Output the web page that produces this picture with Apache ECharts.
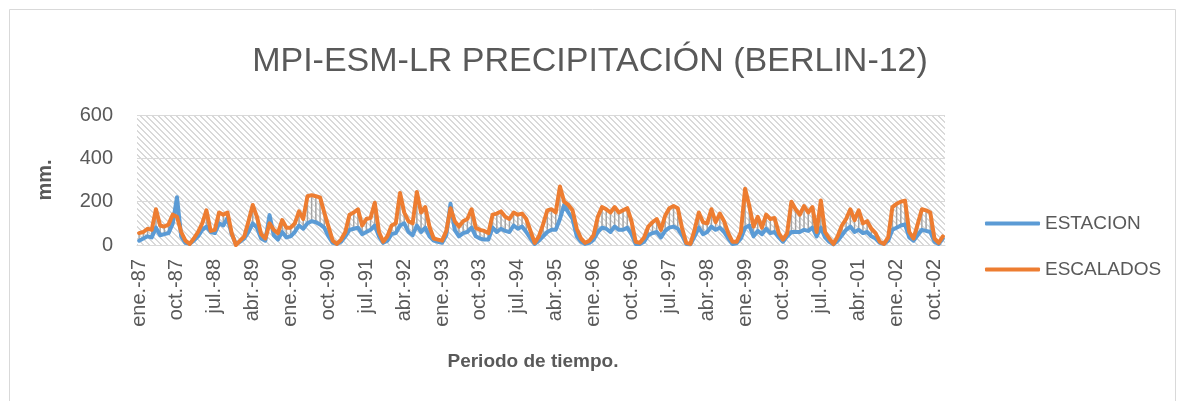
<!DOCTYPE html>
<html><head><meta charset="utf-8">
<script src="https://cdn.jsdelivr.net/npm/echarts@6/dist/echarts.min.js"></script>
<style>html,body{margin:0;padding:0;background:#fff}#c{width:1180px;height:401px}</style>
</head><body><div id="c"></div>
<script>
const monthNames = ['ene.','feb.','mar.','abr.','may.','jun.','jul.','ago.','sep.','oct.','nov.','dic.'];
const years = ['87','88','89','90','91','92','93','94','95','96','97','98','99','00','01','02'];
const yTicks = [0, 200, 400, 600];
const estacion = [
 20,30,40,35,80,45,50,55,100,220,40,10,
 5,20,40,70,85,60,55,100,90,125,50,5,
 15,30,60,100,80,30,20,138,45,25,60,35,
 40,60,90,75,100,110,105,95,80,40,10,5,
 15,40,70,75,80,50,60,70,90,40,10,20,
 50,55,90,100,60,45,90,60,80,40,20,15,
 10,45,190,70,40,55,60,80,40,30,25,25,
 80,60,75,65,60,90,75,85,60,30,5,20,
 40,60,70,70,120,185,150,120,40,15,5,10,
 25,60,80,75,60,85,70,70,80,50,5,5,
 15,45,55,60,35,65,80,85,75,45,5,3,
 40,80,50,60,85,70,80,60,30,5,8,30,
 80,90,40,65,50,75,55,60,35,15,40,60,
 60,60,70,65,80,40,80,35,15,3,20,45,
 70,85,60,70,55,60,40,30,10,5,20,70,
 80,90,95,35,20,45,70,65,60,15,5,30
];
const escalados = [
 55,60,75,70,165,90,85,95,140,130,60,20,
 5,30,60,100,160,65,70,150,140,150,55,0,
 20,40,110,185,130,50,30,100,70,55,115,80,
 80,100,155,120,225,230,225,220,150,85,20,5,
 25,60,140,150,165,90,120,125,195,60,15,40,
 90,100,240,150,110,100,245,150,175,85,30,25,
 20,65,170,110,85,110,120,165,80,70,65,55,
 140,145,155,130,120,150,140,145,120,65,10,40,
 95,160,165,150,270,200,185,160,75,30,10,20,
 45,130,175,165,150,175,150,160,170,110,15,10,
 35,85,105,120,70,135,170,180,170,80,10,5,
 70,150,105,100,165,105,145,110,55,15,15,60,
 260,180,85,130,80,140,120,125,55,25,55,200,
 165,140,180,150,175,60,205,60,30,5,40,90,
 120,165,115,160,100,110,75,55,15,5,35,175,
 190,200,205,60,30,95,165,160,150,30,10,40
];
const categories = [];
years.forEach(y => monthNames.forEach(m => categories.push(m + '-' + y)));

function hatch() {
  const n = 6, cv = document.createElement('canvas');
  cv.width = n; cv.height = n;
  const ctx = cv.getContext('2d');
  ctx.fillStyle = '#ffffff'; ctx.fillRect(0, 0, n, n);
  ctx.fillStyle = '#d9d9d9';
  for (let k = 0; k < n; k++) { ctx.fillRect(k, k, 1, 1); ctx.fillRect((k + 1) % n, k, 1, 1); }
  return cv;
}

const chart = echarts.init(document.getElementById('c'));
const fontFam = '"Liberation Sans", Arial, sans-serif';
chart.setOption({
  animation: false,
  backgroundColor: '#ffffff',
  title: {
    text: 'MPI-ESM-LR PRECIPITACIÓN (BERLIN-12)',
    left: 'center', top: 40,
    textStyle: { fontFamily: fontFam, fontSize: 34, fontWeight: 'normal', color: '#595959' }
  },
  legend: {
    orient: 'vertical', left: 980, top: 209,
    itemWidth: 55, itemHeight: 4, itemGap: 27, icon: 'roundRect',
    textStyle: { fontFamily: fontFam, fontSize: 19, color: '#595959' },
    data: ['ESTACION', 'ESCALADOS']
  },
  grid: {
    left: 137, right: 235, top: 115, bottom: 156,
    show: true, borderWidth: 0,
    backgroundColor: { image: hatch(), repeat: 'repeat' }
  },
  xAxis: {
    type: 'category', data: categories, boundaryGap: true,
    name: 'Periodo de tiempo.', nameLocation: 'middle', nameGap: 107,
    nameTextStyle: { fontFamily: fontFam, fontSize: 19, fontWeight: 'bold', color: '#595959', padding: [0, 16, 0, 0] },
    axisLine: { lineStyle: { color: '#d9d9d9', width: 1 } },
    axisTick: { show: false },
    axisLabel: { interval: 8, rotate: 90, margin: 14, fontFamily: fontFam, fontSize: 20, color: '#595959' }
  },
  yAxis: {
    type: 'value', min: yTicks[0], max: yTicks[yTicks.length - 1], interval: 200,
    name: 'mm.', nameLocation: 'middle', nameGap: 82,
    nameTextStyle: { fontFamily: fontFam, fontSize: 20, fontWeight: 'bold', color: '#595959' },
    axisLine: { show: false }, axisTick: { show: false },
    axisLabel: { margin: 24, fontFamily: fontFam, fontSize: 20, color: '#595959' },
    splitLine: { lineStyle: { color: '#d9d9d9', width: 1 } }
  },
  series: [
    {
      type: 'custom', name: 'drop', z: 1, silent: true,
      data: estacion.map((v, i) => [i, v, escalados[i]]),
      encode: { x: 0, y: [1, 2] },
      renderItem: function (params, api) {
        const a = api.coord([api.value(0), api.value(1)]);
        const b = api.coord([api.value(0), api.value(2)]);
        return { type: 'line', shape: { x1: a[0], y1: a[1], x2: b[0], y2: b[1] },
                 style: { stroke: '#a5a5a5', lineWidth: 1.5 } };
      }
    },
    {
      type: 'line', name: 'ESTACION', data: estacion, z: 3,
      showSymbol: false, smooth: false,
      lineStyle: { color: '#5b9bd5', width: 4, cap: 'round', join: 'round' },
      itemStyle: { color: '#5b9bd5' }
    },
    {
      type: 'line', name: 'ESCALADOS', data: escalados, z: 4,
      showSymbol: false, smooth: false,
      lineStyle: { color: '#ed7d31', width: 4, cap: 'round', join: 'round' },
      itemStyle: { color: '#ed7d31' }
    }
  ],
  graphic: [{
    type: 'rect', left: 7, top: 7, silent: true, z: 100,
    shape: { width: 1166, height: 420 },
    style: { fill: 'none', stroke: '#d9d9d9', lineWidth: 1 }
  }]
});
</script></body></html>
